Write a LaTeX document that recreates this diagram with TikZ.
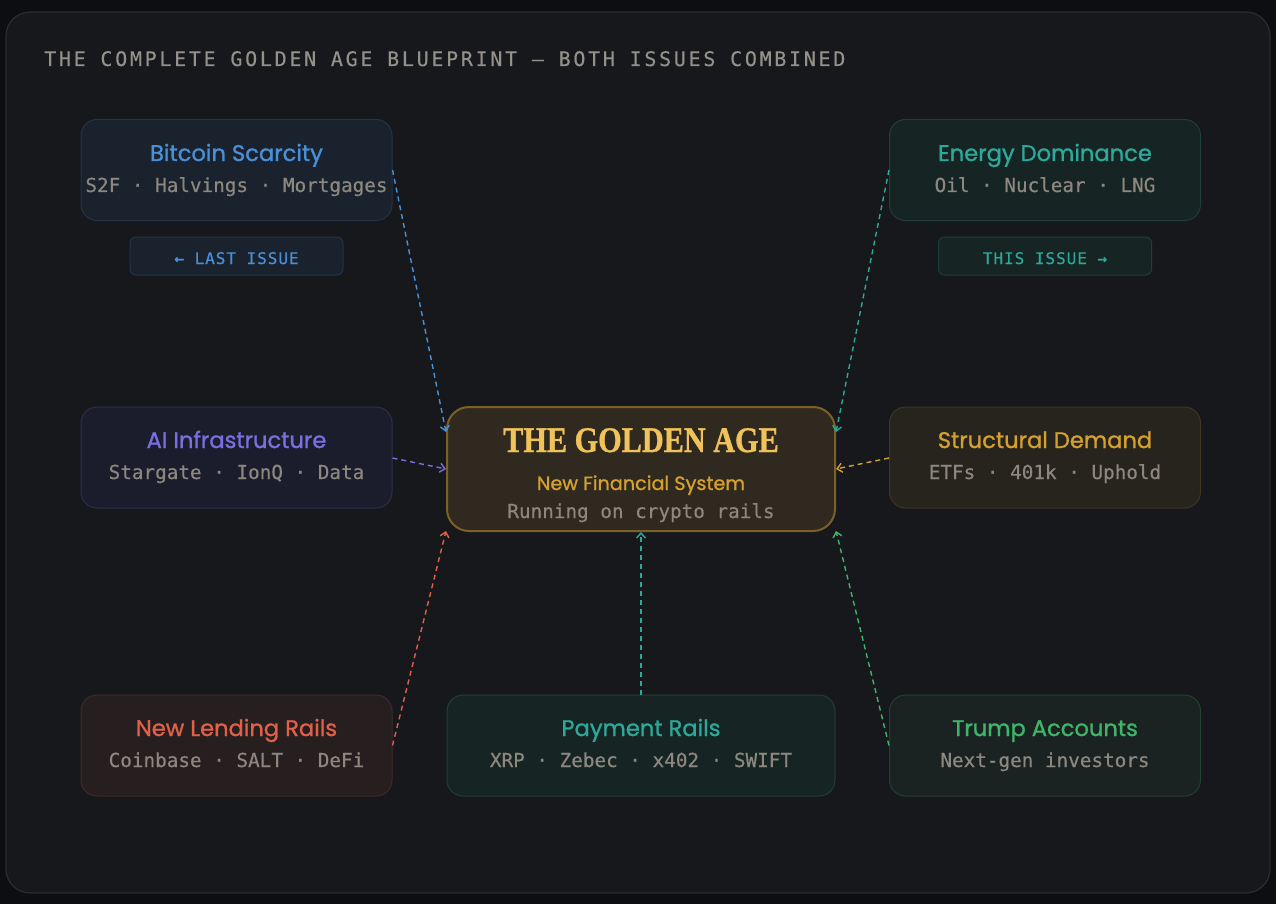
\documentclass[tikz,border=0pt]{standalone}
\usepackage{fontspec}
\usepackage{graphicx}
\usetikzlibrary{arrows.meta,calc}
\newfontfamily\sansf[FakeBold=1.1]{Poppins}
\newfontfamily\monof[FakeBold=0.4]{DejaVu Sans Mono}
\newfontfamily\monotitle[LetterSpace=13.5,FakeBold=0.3]{DejaVu Sans Mono}
\newfontfamily\monobadge[LetterSpace=6,FakeBold=0.5]{DejaVu Sans Mono}
\newfontfamily\seriff[BoldFeatures={FakeBold=1}]{Liberation Serif}
\definecolor{bgouter}{HTML}{0D0E11}
\definecolor{panelfill}{HTML}{17181C}
\definecolor{panelline}{HTML}{2B2C31}
\definecolor{graytxt}{HTML}{8C8880}
\definecolor{titletxt}{HTML}{94918A}
\definecolor{cblue}{HTML}{4A90D9}
\definecolor{cteal}{HTML}{2BA99A}
\definecolor{cpurple}{HTML}{7A6EE0}
\definecolor{cgoldt}{HTML}{F0C35A}
\definecolor{cgold}{HTML}{D4A030}
\definecolor{cred}{HTML}{E0604A}
\definecolor{cgreen}{HTML}{3FB56A}
\definecolor{fblue}{HTML}{1A222D}\definecolor{sblue}{HTML}{233349}
\definecolor{fteal}{HTML}{172424}\definecolor{steal}{HTML}{1F3D3A}
\definecolor{fpurple}{HTML}{1C1D2C}\definecolor{spurple}{HTML}{2F2C4E}
\definecolor{fctr}{HTML}{302920}\definecolor{sctr}{HTML}{7D6028}
\definecolor{fgold}{HTML}{27241D}\definecolor{sgold}{HTML}{3F3522}
\definecolor{fred}{HTML}{261E1F}\definecolor{sred}{HTML}{41292A}
\definecolor{fgreen}{HTML}{1A2322}\definecolor{sgreen}{HTML}{22402F}
\tikzset{
  card/.style={draw, line width=1pt, rounded corners=16pt, minimum width=311pt, minimum height=101pt, inner sep=0pt},
  badge/.style={draw, line width=1pt, rounded corners=6pt, minimum width=213pt, minimum height=38pt, inner sep=0pt},
  ttl/.style={anchor=base, font=\sansf\fontsize{22.6}{26}\selectfont, inner sep=0pt},
  sub/.style={anchor=base, font=\monof\fontsize{19.3}{22}\selectfont, text=graytxt, inner sep=0pt},
  badgetxt/.style={anchor=base, font=\monobadge\fontsize{16}{18}\selectfont, inner sep=0pt},
  conn/.style={line width=1.4pt, dash pattern=on 5pt off 4pt, -{Straight Barb[length=5pt,width=9pt,line width=1.4pt]}},
}
\begin{document}
\begin{tikzpicture}[x=1pt,y=-1pt]
\fill[bgouter] (0,0) rectangle (1276,904);
\useasboundingbox (0,0) rectangle (1276,904);
\draw[panelline, fill=panelfill, line width=1.2pt, rounded corners=24pt] (6,12) rectangle (1270,893);
\node[anchor=base west, inner sep=0pt, text=titletxt, font=\monotitle\fontsize{20}{24}\selectfont] (title) at (44,66) {THE COMPLETE GOLDEN AGE BLUEPRINT — BOTH ISSUES COMBINED};

% cards
\node[card, fill=fblue, draw=sblue] (btc) at (236.5,170) {};
\node[card, fill=fteal, draw=steal] (eng) at (1045,170) {};
\node[card, fill=fpurple, draw=spurple] (ai) at (236.5,457.5) {};
\node[card, fill=fgold, draw=sgold] (str) at (1045,457.5) {};
\node[card, fill=fred, draw=sred] (lend) at (236.5,745.5) {};
\node[card, fill=fteal, draw=steal, minimum width=388pt] (pay) at (641,745.5) {};
\node[card, fill=fgreen, draw=sgreen] (trump) at (1045,745.5) {};
\node[draw=sctr, fill=fctr, line width=2pt, rounded corners=22pt, minimum width=388pt, minimum height=124pt, inner sep=0pt] (ctr) at (641,469) {};

\node[badge, fill=fblue, draw=sblue] (lastb) at (236.5,256) {};
\node[badge, fill=fteal, draw=steal] (thisb) at (1045,256) {};

% texts
\node[ttl, text=cblue] (btct) at (236.5,161) {Bitcoin Scarcity};
\node[sub] (btcs) at (236.5,192) {S2F · Halvings · Mortgages};
\node[badgetxt, text=cblue] (lastt) at (236.5,264) {← LAST ISSUE};

\node[ttl, text=cteal] (engt) at (1045,161) {Energy Dominance};
\node[sub] (engs) at (1045,192) {Oil · Nuclear · LNG};
\node[badgetxt, text=cteal] (thist) at (1045,264) {THIS ISSUE →};

\node[ttl, text=cpurple] (ait) at (236.5,448) {AI Infrastructure};
\node[sub] (ais) at (236.5,479) {Stargate · IonQ · Data};

\node[ttl, text=cgold] (strt) at (1045,448) {Structural Demand};
\node[sub] (strs) at (1045,479) {ETFs · 401k · Uphold};

\node[anchor=base, inner sep=0pt, text=cgoldt, font=\seriff\bfseries\fontsize{36}{38}\selectfont] (ctrt) at (641,452) {\scalebox{0.84}[1]{THE GOLDEN AGE}};
\node[ttl, text=cgold, font=\sansf\fontsize{19.2}{24}\selectfont] (ctrs) at (641,490) {New Financial System};
\node[sub] (ctrr) at (641,518) {Running on crypto rails};

\node[ttl, text=cred] (lendt) at (236.5,736) {New Lending Rails};
\node[sub] (lends) at (236.5,767) {Coinbase · SALT · DeFi};

\node[ttl, text=cteal] (payt) at (641,736) {Payment Rails};
\node[sub] (pays) at (641,767) {XRP · Zebec · x402 · SWIFT};

\node[ttl, text=cgreen] (trumpt) at (1045,736) {Trump Accounts};
\node[sub] (trumps) at (1045,767) {Next-gen investors};

% connectors
\draw[conn, cblue] (btc.east) -- ($(ctr.west)+(0,-37)$);
\draw[conn, cteal] (eng.west) -- ($(ctr.east)+(0,-37)$);
\draw[conn, cpurple] ($(ai.east)+(0,0.5)$) -- (ctr.west);
\draw[conn, cgold] ($(str.west)+(0,0.5)$) -- (ctr.east);
\draw[conn, cred] (lend.east) -- ($(ctr.south west)+(0,-1)$);
\draw[conn, cteal] (pay.north) -- (ctr.south);
\draw[conn, cgreen] (trump.west) -- ($(ctr.south east)+(0,-1)$);
\end{tikzpicture}
\end{document}
